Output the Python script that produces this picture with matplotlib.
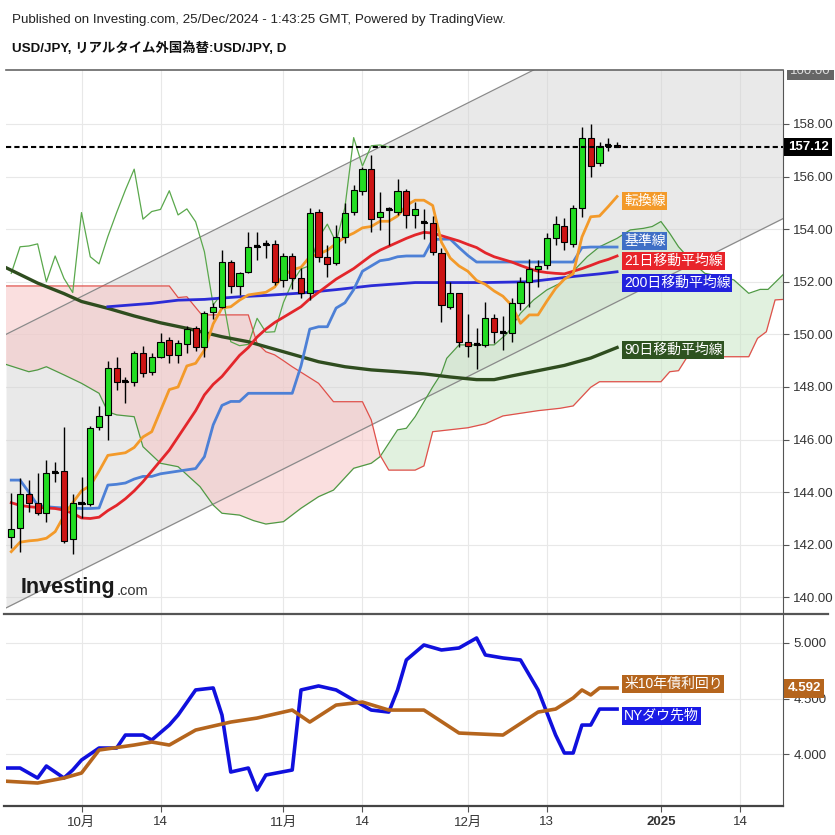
import numpy as np
import matplotlib
matplotlib.use("Agg")
import matplotlib.pyplot as plt
from matplotlib.lines import Line2D
from matplotlib.transforms import Bbox, TransformedBbox

plt.rcParams['font.family'] = ['Liberation Sans Narrow', 'Liberation Sans', 'Noto Sans CJK JP', 'DejaVu Sans']

# ---- candles (bar index 0 = 1 Oct 2024) ----
bar_idx = list(range(-8, 62))
opens = [142.29, 142.63, 143.93, 143.60, 143.22, 144.74, 144.82, 142.21, 143.55, 143.55,
         146.49, 146.94, 148.71, 148.20, 148.20, 149.30, 148.58, 149.15, 149.79, 149.22,
         149.63, 150.23, 149.51, 150.86, 151.05, 152.76, 151.84, 152.38, 153.33, 153.40,
         153.44, 152.07, 152.98, 152.13, 151.59, 154.67, 152.95, 152.70, 153.72, 154.67,
         155.46, 156.28, 154.48, 154.71, 154.67, 155.46, 154.54, 154.24, 154.22, 153.08,
         151.05, 151.56, 149.72, 149.58, 149.60, 150.61, 150.06, 150.04, 151.21, 151.98,
         152.48, 152.64, 153.65, 154.13, 153.44, 154.82, 157.48, 156.53, 157.17, 157.19]
highs = [143.96, 144.53, 144.46, 144.72, 145.22, 145.16, 146.49, 143.93, 144.59, 146.52,
         147.28, 148.99, 149.15, 148.39, 149.38, 149.56, 149.28, 150.04, 149.89, 149.79,
         150.32, 150.32, 150.90, 151.18, 153.21, 152.83, 152.38, 153.91, 153.91, 153.59,
         153.59, 153.08, 153.08, 152.51, 154.79, 154.76, 153.40, 154.16, 154.98, 155.68,
         156.38, 156.82, 155.43, 154.86, 155.90, 155.52, 155.05, 154.76, 154.50, 153.27,
         152.00, 151.58, 150.78, 150.23, 151.24, 150.78, 150.70, 151.40, 152.19, 152.86,
         152.83, 153.84, 154.50, 154.41, 154.92, 157.87, 158.00, 157.33, 157.46, 157.33]
lows = [141.87, 141.74, 143.26, 143.13, 142.88, 144.40, 142.06, 141.65, 143.01, 143.48,
        146.37, 145.98, 147.89, 147.38, 148.04, 148.39, 148.46, 149.09, 148.90, 148.90,
        149.28, 149.38, 149.15, 150.57, 150.99, 151.59, 151.50, 152.32, 152.83, 152.89,
        151.88, 151.81, 151.71, 151.37, 151.31, 152.76, 152.19, 152.64, 153.46, 154.54,
        155.30, 153.91, 153.97, 153.40, 154.54, 154.03, 154.03, 153.62, 153.02, 150.48,
        150.95, 149.53, 149.15, 148.67, 149.53, 149.68, 149.41, 149.72, 150.93, 151.05,
        151.81, 152.48, 153.40, 153.21, 153.33, 154.48, 156.00, 156.40, 156.97, 157.11]
closes = [142.59, 143.93, 143.60, 143.20, 144.74, 144.78, 142.16, 143.60, 143.60, 146.43,
          146.90, 148.73, 148.18, 148.24, 149.28, 148.54, 149.13, 149.72, 149.22, 149.66,
          150.19, 149.51, 150.83, 151.05, 152.76, 151.84, 152.32, 153.33, 153.36, 153.44,
          152.00, 152.98, 152.13, 151.59, 154.63, 152.95, 152.68, 153.72, 154.63, 155.49,
          156.28, 154.38, 154.67, 154.75, 155.46, 154.54, 154.77, 154.28, 153.14, 151.12,
          151.56, 149.72, 149.57, 149.62, 150.61, 150.08, 150.10, 151.21, 151.98, 152.49,
          152.61, 153.68, 154.19, 153.50, 154.82, 157.48, 156.40, 157.17, 157.20, 157.12]
last_price = 157.12

# ---- indicator lines ----
tenkan = [141.74, 142.10, 142.15, 142.18, 142.25, 142.50, 143.10, 143.60, 144.05, 144.25,
          144.80, 145.40, 145.45, 145.50, 145.70, 146.10, 146.30, 147.10, 147.90, 148.00,
          148.80, 148.90, 149.40, 150.40, 151.00, 151.05, 151.30, 151.50, 151.55, 151.60,
          151.80, 152.25, 152.45, 152.55, 152.95, 153.05, 153.20, 153.45, 153.70, 153.85,
          154.05, 154.10, 154.30, 154.30, 154.50, 154.90, 155.10, 155.10, 154.90, 153.50,
          152.90, 152.60, 152.40, 152.05, 151.90, 151.65, 151.45, 151.10, 150.42, 150.74,
          150.74, 151.26, 151.75, 152.10, 152.30, 153.70, 154.47, 154.50, 154.86, 155.24]
kijun = [144.46, 144.46, 144.00, 143.50, 143.45, 143.42, 143.40, 143.40, 143.38, 143.38,
         143.40, 144.27, 144.30, 144.35, 144.50, 144.60, 144.60, 144.70, 144.75, 144.80,
         144.85, 144.90, 145.35, 146.56, 147.30, 147.45, 147.45, 147.76, 147.76, 147.76,
         147.76, 147.76, 147.76, 148.80, 150.20, 150.29, 150.29, 151.00, 151.20, 151.70,
         152.40, 152.60, 152.80, 152.85, 152.95, 152.98, 152.98, 152.98, 153.60, 153.62,
         153.62, 153.30, 153.00, 152.75, 152.75, 152.75, 152.75, 152.75, 152.75, 152.75,
         152.75, 152.75, 152.75, 152.75, 152.75, 153.30, 153.32, 153.32, 153.32, 153.32]
sma21 = [143.60, 143.50, 143.45, 143.42, 143.40, 143.38, 143.32, 143.20, 143.02, 143.00,
         143.05, 143.30, 143.50, 143.75, 144.05, 144.40, 144.80, 145.20, 145.60, 146.10,
         146.60, 147.10, 147.70, 148.10, 148.40, 148.80, 149.20, 149.50, 149.90, 150.20,
         150.45, 150.65, 150.85, 151.05, 151.35, 151.60, 151.85, 152.10, 152.30, 152.50,
         152.75, 153.00, 153.20, 153.35, 153.50, 153.65, 153.78, 153.88, 153.85, 153.75,
         153.65, 153.55, 153.42, 153.30, 153.10, 152.95, 152.85, 152.75, 152.62, 152.50,
         152.40, 152.35, 152.32, 152.30, 152.40, 152.50, 152.62, 152.75, 152.85, 152.98]
sma200_idx = [3, 8, 11, 14, 18, 21, 25, 29, 33, 38, 46, 51, 53, 56, 59, 61]
sma200 = [151.05, 151.18, 151.30, 151.33, 151.43, 151.48, 151.57, 151.70, 151.85, 151.97,
          151.97, 152.00, 152.08, 152.20, 152.30, 152.38]
sma90_idx = [-9, -5, -2, 0, 3, 6, 9, 12, 16, 19, 23, 27, 30, 33, 36, 39, 42, 45, 47, 49,
             52, 55, 58, 61]
sma90 = [152.60, 151.95, 151.55, 151.25, 150.99, 150.70, 150.44, 150.23, 149.91, 149.72,
         149.34, 148.96, 148.77, 148.65, 148.58, 148.50, 148.38, 148.28, 148.28, 148.42,
         148.62, 148.82, 149.10, 149.50]

# leading spans (cloud)
span_a_idx = [-9, -6, -5, -4, -2, 0, 2, 3, 4, 6, 7, 9, 11, 13.5, 15, 16, 18, 19.6, 21, 23,
              25, 27, 28.7, 31, 33, 34, 36, 37, 38, 40, 41, 41.6, 43, 47, 48.5, 50, 51.5,
              53, 54.5, 56, 57.6, 59, 61, 62.5, 64, 65, 66, 67, 68, 69.7, 71, 73, 74.3,
              76, 77.3, 78.2, 80]
span_a = [148.90, 148.58, 148.65, 148.77, 148.46, 148.14, 147.76, 147.06, 146.94, 146.87,
          145.73, 145.10, 144.97, 144.21, 143.51, 143.20, 143.13, 142.92, 142.79, 142.88,
          143.39, 143.83, 144.08, 144.91, 145.10, 145.35, 146.37, 146.43, 146.87, 148.00,
          148.52, 149.09, 149.60, 149.60, 150.04, 150.80, 151.31, 151.69, 151.94, 152.40,
          152.95, 153.33, 153.65, 153.97, 154.03, 154.10, 154.29, 153.84, 153.33, 152.70,
          152.32, 152.19, 152.07, 151.56, 151.71, 151.71, 152.30]
span_b_idx = [-9, 10, 11, 12, 13.7, 19, 20, 21, 22, 23, 24, 27, 28.7, 32, 33, 34, 35, 38,
              39, 40, 44, 46, 48, 52, 54.5, 56, 58, 59, 66, 67, 68, 69, 76, 77, 78, 79, 80]
span_b = [151.84, 151.84, 151.40, 151.43, 150.74, 150.74, 149.66, 149.34, 149.22, 149.00,
          148.77, 148.14, 147.44, 147.44, 146.75, 145.41, 144.84, 144.84, 145.00, 146.30,
          146.45, 146.60, 146.90, 147.10, 147.19, 147.28, 147.99, 148.20, 148.20, 148.58,
          148.62, 149.15, 149.15, 149.85, 150.10, 151.31, 151.33]

# regression channel
channel_idx = [-8.6, 79.9]
channel_hi = [150.0, 164.8]
channel_lo = [139.6, 154.4]

# ---- lower pane ----
low_idx = [-9, -7, -5, -4, -2, -1, 0, 2, 4, 5, 7, 8, 10, 11, 13, 15, 16, 17, 19, 20, 21,
           24, 25, 27, 29, 31, 33, 35, 36, 37, 39, 41, 43, 45, 46, 48, 50, 52, 54, 55, 56,
           57, 58, 59, 61]
dow = [3.874, 3.874, 3.784, 3.892, 3.784, 3.856, 3.946, 4.054, 4.054, 4.171, 4.171, 4.126,
       4.261, 4.351, 4.577, 4.595, 4.351, 3.838, 3.874, 3.676, 3.811, 3.856, 4.577, 4.613,
       4.577, 4.486, 4.396, 4.378, 4.577, 4.847, 4.982, 4.937, 4.955, 5.045, 4.892, 4.865,
       4.847, 4.577, 4.171, 4.009, 4.009, 4.261, 4.261, 4.405, 4.405]
yld_idx = [-9, -5, -2, 0, 2, 6, 8, 10, 13, 17, 20, 24, 26, 29, 32, 35, 39, 43, 48, 52, 54,
           56, 57, 58, 59, 61]
yld = [3.757, 3.739, 3.784, 3.829, 4.036, 4.081, 4.108, 4.081, 4.216, 4.288, 4.324, 4.396,
       4.288, 4.441, 4.468, 4.396, 4.396, 4.189, 4.171, 4.378, 4.405, 4.505, 4.577, 4.532,
       4.595, 4.595]
last_yld = 4.592

tick_pos = [0, 9, 23, 32, 44, 53, 66, 75]
tick_lab = ['10月', '14', '11月', '14', '12月', '13', '2025', '14']
price_ticks = [140, 142, 144, 146, 148, 150, 152, 154, 156, 158]
low_ticks = [4.0, 4.5, 5.0]

# ---- layout ----
W = H = 835
def fx(px):
    return px / W
def fy(py):
    return 1 - py / H

fig = plt.figure(figsize=(8.35, 8.35), dpi=100)
ax = fig.add_axes([fx(6), fy(614), fx(783) - fx(6), fy(70) - fy(614)])
ax2 = fig.add_axes([fx(6), fy(806), fx(783) - fx(6), fy(614) - fy(806)], sharex=ax)

xmin, xmax = -8.6, 79.9
tick_col = '#333333'
for a in (ax, ax2):
    a.set_xlim(xmin, xmax)
    a.yaxis.tick_right()
    for s in ('left', 'top', 'bottom'):
        a.spines[s].set_visible(False)
    a.spines['right'].set_color('#555555')
    a.tick_params(axis='y', colors='#555555', labelcolor=tick_col, labelsize=9.5, length=4)
    a.set_xticks(tick_pos)
    for xp in tick_pos:
        a.axvline(xp, color='#e8e8e8', lw=0.8, zorder=0)

ax.set_ylim(139.37, 160.05)
ax.set_yticks(price_ticks)
ax.set_yticklabels([f'{p:.2f}' for p in price_ticks])
for p in price_ticks:
    ax.axhline(p, color='#e8e8e8', lw=0.8, zorder=0)
ax.tick_params(axis='x', length=0, labelbottom=False)

# channel
ax.fill_between(channel_idx, channel_lo, channel_hi, color='#d4d4d4', alpha=0.5, lw=0, zorder=1)
ax.plot(channel_idx, channel_hi, color='#8a8a8a', lw=0.9, zorder=2)
ax.plot(channel_idx, channel_lo, color='#8a8a8a', lw=0.9, zorder=2)

# cloud
grid_x = np.union1d(span_a_idx, span_b_idx)
sa = np.interp(grid_x, span_a_idx, span_a)
sb = np.interp(grid_x, span_b_idx, span_b)
ax.fill_between(grid_x, sa, sb, where=sa >= sb, interpolate=True, color='#c9e6c6', alpha=0.55, lw=0, zorder=1)
ax.fill_between(grid_x, sa, sb, where=sa < sb, interpolate=True, color='#f7c6c6', alpha=0.55, lw=0, zorder=1)
ax.plot(span_a_idx, span_a, color='#4f9a44', lw=0.9, zorder=3)
ax.plot(span_b_idx, span_b, color='#e0504a', lw=0.9, zorder=3)

# lagging span = closes shifted back 26 bars
lag = 26
chikou_x = [i - lag for i in bar_idx[lag:]]
ax.plot(chikou_x, closes[lag:], color='#5aa84c', lw=0.9, zorder=3)

# moving averages / ichimoku lines
ax.plot(sma90_idx, sma90, color='#2f4d1f', lw=2.4, zorder=4)
ax.plot(sma200_idx, sma200, color='#2b2bd6', lw=2.0, zorder=4)
ax.plot(bar_idx, kijun, color='#4d80d6', lw=2.0, zorder=4)
ax.plot(bar_idx, sma21, color='#e3262b', lw=2.0, zorder=4)
ax.plot(bar_idx, tenkan, color='#f39a2a', lw=2.0, zorder=4)

# candles
o = np.array(opens); c = np.array(closes)
up = c >= o
bx = np.array(bar_idx)
ax.vlines(bx, lows, highs, color='black', lw=1.0, zorder=5)
ax.bar(bx[up], (c - o)[up], bottom=o[up], width=0.7, color='#22dd22', edgecolor='black', lw=0.8, zorder=6)
ax.bar(bx[~up], (o - c)[~up], bottom=c[~up], width=0.7, color='#cc1414', edgecolor='black', lw=0.8, zorder=6)
dj = np.abs(c - o) < 0.06
ax.hlines(c[dj], bx[dj] - 0.35, bx[dj] + 0.35, color='black', lw=1.6, zorder=6)

# last price line
ax.axhline(last_price, color='black', lw=1.5, ls=(0, (2.5, 1.5)), zorder=7)

# line labels
def tag(a, y, s, fc):
    a.text(61.8, y, s, color='white', fontsize=10, va='center', ha='left', zorder=9,
           bbox=dict(boxstyle='square,pad=0.12', fc=fc, ec='none'))

tag(ax, 155.07, '転換線', '#f39a2a')
tag(ax, 153.55, '基準線', '#3f6fc6')
tag(ax, 152.79, '21日移動平均線', '#e8242a')
tag(ax, 151.95, '200日移動平均線', '#2222dd')
tag(ax, 149.41, '90日移動平均線', '#2e5320')

ax.text(1.006, last_price, f'{last_price:.2f}', transform=ax.get_yaxis_transform(), color='white',
        fontsize=9.5, fontweight='bold', va='center', ha='left', zorder=9, clip_on=False,
        bbox=dict(boxstyle='square,pad=0.25', fc='black', ec='none'))

# clipped top label
t = fig.text(fx(790), fy(71), '160.00', color='#dddddd', fontsize=9.5, va='center', ha='left',
             bbox=dict(boxstyle='square,pad=0.25', fc='#666666', ec='none'))
t.set_clip_on(True)
t.set_clip_box(TransformedBbox(Bbox([[fx(783), 0.0], [1.0, fy(70)]]), fig.transFigure))

# logo
logo = fig.text(fx(21), fy(588), 'Investing', fontsize=15.5, fontweight='bold', color='#1a1a1a',
                va='center', ha='left')
rend = fig.canvas.get_renderer()
lx = logo.get_window_extent(renderer=rend).x1 / fig.bbox.width
fig.text(lx + 0.001, fy(591), '.com', fontsize=10.5, color='#333333', va='center', ha='left')

# lower pane
ax2.set_ylim(3.532, 5.261)
ax2.set_yticks(low_ticks)
ax2.set_yticklabels([f'{v:.3f}' for v in low_ticks])
for v in low_ticks:
    ax2.axhline(v, color='#e8e8e8', lw=0.8, zorder=0)
ax2.plot(low_idx, dow, color='#1010dd', lw=2.6, zorder=4)
ax2.plot(yld_idx, yld, color='#b5651d', lw=2.6, zorder=4)
tag(ax2, 4.63, '米10年債利回り', '#b5651d')
tag(ax2, 4.342, 'NYダウ先物', '#1a1ae6')
ax2.text(1.006, last_yld, f'{last_yld:.3f}', transform=ax2.get_yaxis_transform(), color='white',
         fontsize=9.5, fontweight='bold', va='center', ha='left', zorder=9, clip_on=False,
         bbox=dict(boxstyle='square,pad=0.25', fc='#b5651d', ec='none'))

ax2.set_xticklabels(tick_lab)
ax2.tick_params(axis='x', colors='#555555', labelcolor=tick_col, labelsize=9.5, length=4)
for lab in ax2.get_xticklabels():
    if lab.get_text() == '2025':
        lab.set_fontweight('bold')

# frame lines
fig.add_artist(Line2D([fx(6), fx(783)], [fy(70), fy(70)], color='#666666', lw=1.2))
fig.add_artist(Line2D([fx(4), fx(828)], [fy(614), fy(614)], color='#555555', lw=1.6))
fig.add_artist(Line2D([fx(4), fx(783)], [fy(806), fy(806)], color='#444444', lw=1.6))

# header
fig.text(fx(12), fy(20), 'Published on Investing.com, 25/Dec/2024 - 1:43:25 GMT, Powered by TradingView.',
         fontsize=9.6, color='#222222', va='center', ha='left')
fig.text(fx(12), fy(48), 'USD/JPY, リアルタイム外国為替:USD/JPY, D', fontsize=9.6,
         fontweight='bold', color='#111111', va='center', ha='left')

fig.savefig('out.png', dpi=100, facecolor='white')
